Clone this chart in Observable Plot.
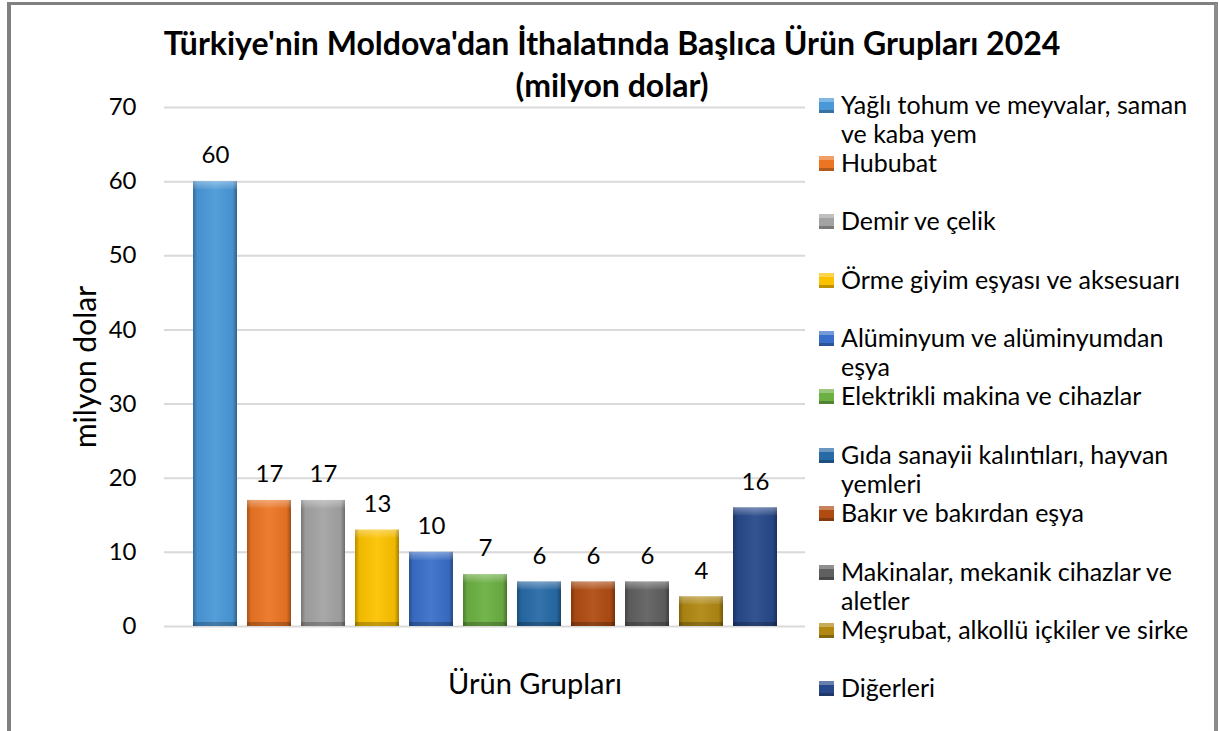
<!DOCTYPE html>
<html>
<head>
<meta charset="utf-8">
<script src="https://cdn.jsdelivr.net/npm/d3@7"></script>
<script src="https://cdn.jsdelivr.net/npm/@observablehq/plot@0.6"></script>
<style>
  html, body { margin: 0; padding: 0; background: #fff; }
  #wrap { position: relative; width: 1219px; height: 731px; overflow: hidden; font-family: Lato, "Open Sans", sans-serif; color: #000; }
  #frame { position: absolute; left: 7px; top: 2px; width: 1203px; height: 760px; border-left: 4px solid #808080; border-top: 3px solid #808080; border-right: 4px solid #8c8c8c; }
  #title { position: absolute; left: 112px; width: 1000px; top: 22px; text-align: center; font-weight: 700; font-size: 32px; line-height: 42px; white-space: nowrap; }
  #chart { position: absolute; left: 0; top: 0; }
  #legend { position: absolute; left: 819px; top: 89.5px; width: 390px; }
  .item { display: flex; align-items: flex-start; height: 58.4px; }
  .sw { width: 15px; height: 15px; margin-top: 8px; margin-right: 7px; flex: none; }
  .lbl { font-size: 25px; line-height: 29px; max-width: 362px; }
</style>
</head>
<body>
<div id="wrap">
  <div id="frame"></div>
  <div id="chart"></div>
  <div id="title">Türkiye'nin Moldova'dan İthalatında Başlıca Ürün Grupları 2024<br>(milyon dolar)</div>
  <div id="legend"></div>
</div>
<script>
const categories = [
  "Yağlı tohum ve meyvalar, saman ve kaba yem",
  "Hububat",
  "Demir ve çelik",
  "Örme giyim eşyası ve aksesuarı",
  "Alüminyum ve alüminyumdan eşya",
  "Elektrikli makina ve cihazlar",
  "Gıda sanayii kalıntıları, hayvan yemleri",
  "Bakır ve bakırdan eşya",
  "Makinalar, mekanik cihazlar ve aletler",
  "Meşrubat, alkollü içkiler ve sirke",
  "Diğerleri"
];
const values = [60, 17, 17, 13, 10, 7, 6, 6, 6, 4, 16];
const colors = ["#4a98d8", "#ec7524", "#a3a3a3", "#fcc200", "#3a6fc9", "#6cb043", "#276aa6", "#b04c12", "#606060", "#b08812", "#27498a"];
const yTicks = [0, 10, 20, 30, 40, 50, 60, 70];
const yLabel = "milyon dolar";
const xLabel = "Ürün Grupları";

const data = categories.map((c, i) => ({category: c, value: values[i]}));

const chart = Plot.plot({
  width: 820,
  height: 731,
  marginLeft: 164,
  marginRight: 15,
  marginTop: 107,
  marginBottom: 105,
  style: {fontFamily: "Lato, 'Open Sans', sans-serif", color: "#000", background: "transparent"},
  x: {domain: categories, padding: 0.18, insetLeft: 17, insetRight: 16, axis: null},
  y: {domain: [0, 70], axis: null},
  color: {domain: categories, range: colors},
  marks: [
    Plot.ruleY(yTicks, {stroke: "#d9d9d9", strokeWidth: 2}),
    Plot.axisY({ticks: yTicks, tickSize: 0, tickPadding: 28, label: null, fontSize: 24, tickFormat: d => String(d)}),
    Plot.barY(data, {x: "category", y: "value", fill: "category"}),
    Plot.barY(data, {x: "category", y: "value", fill: "url(#bevelH)"}),
    Plot.barY(data, {x: "category", y1: "value", y2: "value", insetBottom: -8, fill: "url(#bevelTop)"}),
    Plot.barY(data, {x: "category", y1: 0, y2: 0, insetTop: -4, fill: "#000000", fillOpacity: 0.22}),
    Plot.text(data, {x: "category", y: "value", text: d => String(d.value), dy: -26, fontSize: 24, fill: "#000"}),
    Plot.text([yLabel], {frameAnchor: "left", text: d => d, rotate: -90, textAnchor: "middle", lineAnchor: "middle", dx: -78, fontSize: 30, fill: "#000"}),
    Plot.text([xLabel], {frameAnchor: "bottom", text: d => d, textAnchor: "middle", lineAnchor: "middle", dx: 50, dy: 58, fontSize: 29, fill: "#000"})
  ]
});

// bevel gradients
const ns = "http://www.w3.org/2000/svg";
const defs = document.createElementNS(ns, "defs");
defs.innerHTML = `
<linearGradient id="bevelH" x1="0" x2="1" y1="0" y2="0">
  <stop offset="0" stop-color="#000" stop-opacity="0.28"/>
  <stop offset="0.1" stop-color="#000" stop-opacity="0.05"/>
  <stop offset="0.5" stop-color="#fff" stop-opacity="0.06"/>
  <stop offset="0.9" stop-color="#000" stop-opacity="0.05"/>
  <stop offset="1" stop-color="#000" stop-opacity="0.35"/>
</linearGradient>
<linearGradient id="bevelTop" x1="0" x2="0" y1="0" y2="1">
  <stop offset="0" stop-color="#fff" stop-opacity="0.35"/>
  <stop offset="1" stop-color="#fff" stop-opacity="0.05"/>
</linearGradient>`;
chart.insertBefore(defs, chart.firstChild);
document.getElementById("chart").appendChild(chart);

// legend
const legend = d3.select("#legend");
categories.forEach((c, i) => {
  const it = legend.append("div").attr("class", "item");
  it.append("div").attr("class", "sw")
    .style("background", `linear-gradient(to bottom, rgba(255,255,255,0.3) 0 25%, rgba(0,0,0,0) 25% 80%, rgba(0,0,0,0.25) 80%), ${colors[i]}`);
  it.append("div").attr("class", "lbl").text(c);
});
</script>
</body>
</html>
